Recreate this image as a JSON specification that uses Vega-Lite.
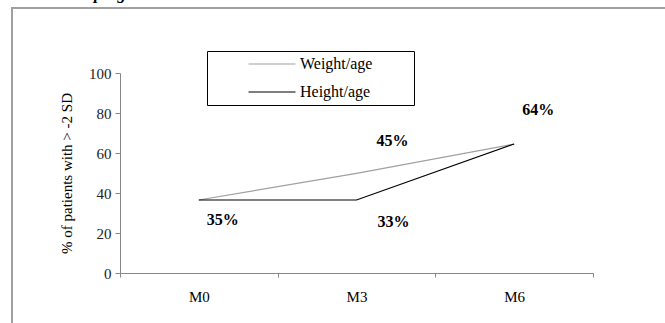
{
  "$schema": "https://vega.github.io/schema/vega-lite/v6.json",
  "width": 660,
  "height": 330,
  "autosize": {"type": "none"},
  "padding": {"left": 12, "top": 8, "right": 0, "bottom": 0},
  "background": "white",
  "config": {
    "view": {"stroke": "#a0a0a0", "strokeWidth": 2},
    "font": "Liberation Serif",
    "axis": {"labelFont": "Liberation Serif", "titleFont": "Liberation Serif"},
    "legend": {"labelFont": "Liberation Serif"},
    "text": {"font": "Liberation Serif"}
  },
  "title": {
    "text": "sco progressive",
    "anchor": "start",
    "font": "Liberation Serif",
    "fontSize": 17,
    "fontWeight": "bold",
    "fontStyle": "italic",
    "color": "#000000",
    "offset": 5,
    "dx": 55
  },
  "data": {
    "values": [
      {"month": "M0", "series": "Weight/age", "value": 36.5, "label": "35%"},
      {"month": "M3", "series": "Weight/age", "value": 49.8, "label": "45%"},
      {"month": "M6", "series": "Weight/age", "value": 64.5, "label": "64%"},
      {"month": "M0", "series": "Height/age", "value": 36.5, "label": "35%"},
      {"month": "M3", "series": "Height/age", "value": 36.5, "label": "33%"},
      {"month": "M6", "series": "Height/age", "value": 64.5, "label": "64%"}
    ]
  },
  "encoding": {
    "x": {
      "field": "month",
      "type": "ordinal",
      "sort": ["M0", "M3", "M6"],
      "scale": {"range": [108, 581], "paddingInner": 0, "paddingOuter": 0},
      "axis": {
        "orient": "bottom",
        "offset": -65,
        "title": null,
        "labelAngle": 0,
        "tickBand": "extent",
        "domainColor": "#888888",
        "tickColor": "#888888",
        "tickSize": 4,
        "labelFont": "Liberation Serif",
        "labelFontSize": 15,
        "labelColor": "#000000",
        "labelPadding": 12,
        "grid": false
      }
    },
    "y": {
      "field": "value",
      "type": "quantitative",
      "scale": {"domain": [0, 100], "range": [265, 65], "nice": false, "zero": false},
      "axis": {
        "orient": "left",
        "offset": -108,
        "values": [0, 20, 40, 60, 80, 100],
        "title": "% of patients with > -2 SD",
        "titleFont": "Liberation Serif",
        "titleFontSize": 15,
        "titleFontWeight": "normal",
        "titleColor": "#000000",
        "titlePadding": 14,
        "domainColor": "#888888",
        "tickColor": "#888888",
        "tickSize": 5,
        "labelFont": "Liberation Serif",
        "labelFontSize": 15,
        "labelColor": "#222222",
        "labelPadding": 4,
        "grid": false
      }
    }
  },
  "layer": [
    {
      "mark": {"type": "line", "strokeWidth": 1.2},
      "encoding": {
        "color": {
          "field": "series",
          "type": "nominal",
          "scale": {"domain": ["Weight/age", "Height/age"], "range": ["#a0a0a0", "#000000"]},
          "legend": {
            "orient": "none",
            "legendX": 195,
            "legendY": 43,
            "title": null,
            "strokeColor": "#000000",
            "fillColor": "white",
            "padding": 5,
            "symbolType": "M-4,0H4",
            "symbolSize": 138,
            "symbolStrokeWidth": 1.2,
            "symbolOffset": 52,
            "labelOffset": 20,
            "rowPadding": 12,
            "labelLimit": 300,
            "labelFont": "Liberation Serif",
            "labelFontSize": 16,
            "labelColor": "#000000",
            "labelExpr": "datum.label + '         \u200b'"
          }
        }
      }
    },
    {
      "transform": [{"filter": "datum.series == 'Height/age' && datum.month == 'M0'"}],
      "mark": {"type": "text", "fontSize": 16, "fontWeight": "bold", "font": "Liberation Serif", "dx": 24, "dy": 20, "color": "#000000"},
      "encoding": {"text": {"field": "label"}}
    },
    {
      "transform": [{"filter": "datum.series == 'Height/age' && datum.month == 'M3'"}],
      "mark": {"type": "text", "fontSize": 16, "fontWeight": "bold", "font": "Liberation Serif", "dx": 37, "dy": 22, "color": "#000000"},
      "encoding": {"text": {"field": "label"}}
    },
    {
      "transform": [{"filter": "datum.series == 'Weight/age' && datum.month == 'M3'"}],
      "mark": {"type": "text", "fontSize": 16, "fontWeight": "bold", "font": "Liberation Serif", "dx": 36, "dy": -32, "color": "#000000"},
      "encoding": {"text": {"field": "label"}}
    },
    {
      "transform": [{"filter": "datum.series == 'Weight/age' && datum.month == 'M6'"}],
      "mark": {"type": "text", "fontSize": 16, "fontWeight": "bold", "font": "Liberation Serif", "dx": 24, "dy": -34, "color": "#000000"},
      "encoding": {"text": {"field": "label"}}
    }
  ]
}
